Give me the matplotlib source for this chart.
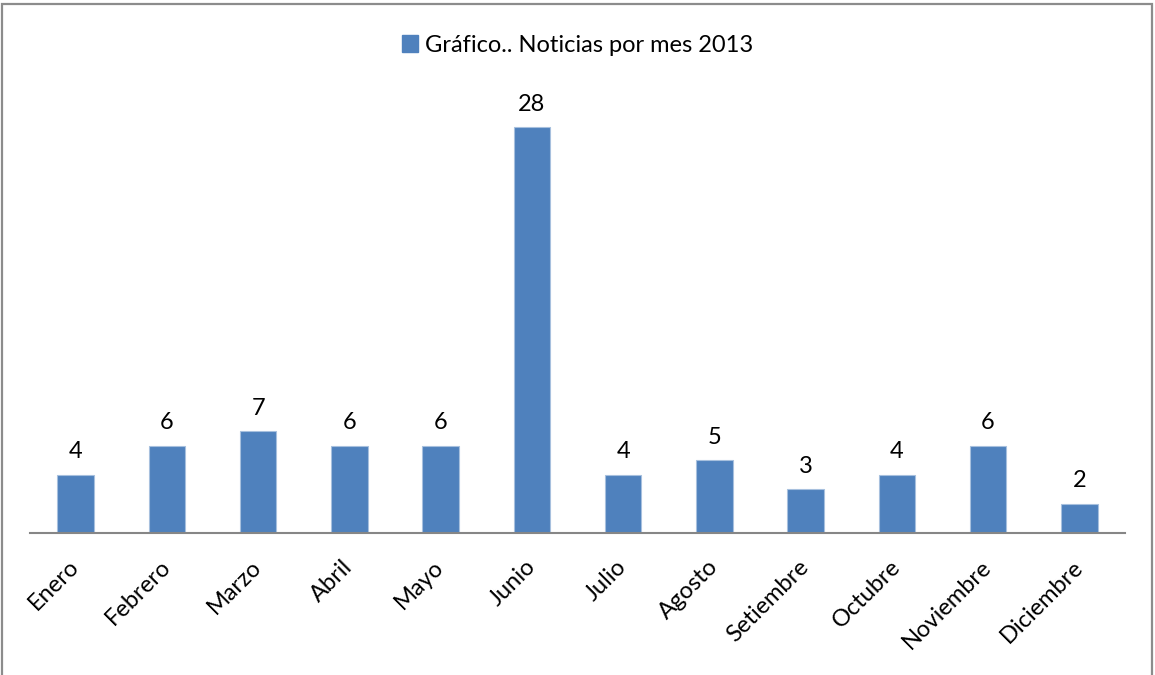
import matplotlib.pyplot as plt
from matplotlib.patches import Rectangle, Patch

plt.rcParams['font.family'] = ['Lato', 'DejaVu Sans']

meses = ['Enero', 'Febrero', 'Marzo', 'Abril', 'Mayo', 'Junio', 'Julio',
         'Agosto', 'Setiembre', 'Octubre', 'Noviembre', 'Diciembre']
noticias = [4, 6, 7, 6, 6, 28, 4, 5, 3, 4, 6, 2]
serie = 'Gráfico.. Noticias por mes 2013'

fig = plt.figure(figsize=(11.55, 6.75), dpi=100)
ax = fig.add_axes([0.026, 0.2104, 0.948, 0.6444])

x = range(len(meses))
bars = ax.bar(x, noticias, width=0.4, color='#4F81BD', edgecolor='#A7C0DE',
              linewidth=0.8)

for b, v in zip(bars, noticias):
    ax.annotate(str(v), (b.get_x() + b.get_width() / 2, v),
                xytext=(0, 9), textcoords='offset points',
                ha='center', va='bottom', fontsize=17)

ax.set_xlim(-0.5, len(meses) - 0.5)
ax.set_ylim(0, 30)
ax.set_yticks([])
ax.set_xticks(list(x))
ax.set_xticklabels(meses, rotation=45, ha='right', va='center',
                   rotation_mode='anchor', fontsize=17)
ax.tick_params(axis='x', length=0, pad=22)
for s in ['top', 'right', 'left']:
    ax.spines[s].set_visible(False)
ax.spines['bottom'].set_color('#868686')
ax.spines['bottom'].set_linewidth(1.5)

fig.legend(handles=[Patch(facecolor='#4F81BD', edgecolor='#4F81BD', label=serie)],
           loc='center', bbox_to_anchor=(0.5, 1 - 45 / 675), frameon=False,
           fontsize=17, handlelength=0.7, handleheight=0.7, handletextpad=0.3)

# outer frame of the chart area
fig.patches.append(Rectangle((1.5 / 1155, -0.1), 1150.5 / 1155, 1.1 - 4.5 / 675,
                             transform=fig.transFigure, fill=False,
                             edgecolor='#8C8C8C', linewidth=1.6))

fig.savefig('out.png', dpi=100)
